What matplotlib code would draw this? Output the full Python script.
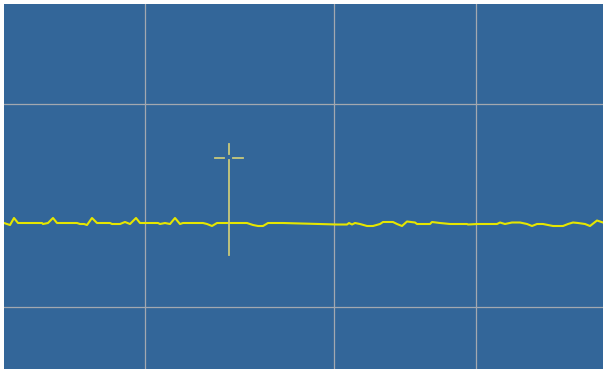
import matplotlib
matplotlib.use("Agg")
import matplotlib.pyplot as plt

# 采样点（时间）与信号幅值
t = [0, 6, 10, 14, 38, 39, 44, 49, 53, 73, 76, 80, 83, 88, 93,
     106, 108, 116, 121, 126, 132, 136, 154, 156, 161, 166, 171, 176, 179,
     199, 203, 208, 213, 243, 249, 254, 259, 264, 279, 333, 343, 345, 348,
     351, 356, 363, 369, 376, 379, 389, 393, 398, 403, 411, 413, 426, 428,
     436, 446, 463, 464, 473, 493, 496, 501, 508, 516, 523, 528, 533, 539,
     549, 559, 564, 569, 574, 581, 586, 593, 599]
amp = [0, -2, 5, 0, 0, -1, 0, 5, 0, 0, -1, -1, -2, 5, 0,
       0, -1, -1, 1, -1, 5, 0, 0, -1, 0, -1, 5, -1, 0,
       0, -1, -3, 0, 0, -2, -3, -3, 0, 0, -1.5, -1.5, 0, -1.5,
       0, -1, -3, -3, -1, 1, 1, -1, -3, 1.5, 0.5, -1, -1, 1,
       0, -1, -1, -1.5, -1, -1, 0.5, -1, 0.5, 0.5, -1, -3, -1, -1,
       -3, -3, -1, 0.5, 0, -1, -3, 2.5, 0.5]

# 光标位置
cursor_t = 225
cursor_y = 65
cursor_span = (-32, 79)

# 网格位置
grid_x = [141, 330, 472]
grid_y = [118.7, -84.3]

fig = plt.figure(figsize=(6.03, 3.69), dpi=100)
fig.patch.set_facecolor('white')
ax = fig.add_axes([4 / 603, 0, 599 / 603, 365 / 369])
ax.set_facecolor('#336699')

ax.plot(t, amp, color='#e6e600', linewidth=1.5, solid_joinstyle='round')

# 十字光标
cc = '#c9c97a'
ax.plot([cursor_t, cursor_t], [cursor_span[0], cursor_y - 1.5], color=cc, linewidth=1.3)
ax.plot([cursor_t, cursor_t], [cursor_y + 4.5, cursor_span[1]], color=cc, linewidth=1.3)
ax.plot([cursor_t - 14, cursor_t - 5], [cursor_y, cursor_y], color=cc, linewidth=1.3)
ax.plot([cursor_t + 4, cursor_t + 14], [cursor_y, cursor_y], color=cc, linewidth=1.3)

ax.set_xlim(0, 599)
ax.set_ylim(-146, 219)
ax.set_xticks(grid_x)
ax.set_yticks(grid_y)
ax.grid(True, color='#a3a8b0', linewidth=0.9)
ax.set_axisbelow(True)
ax.tick_params(length=0, labelbottom=False, labelleft=False)
for s in ax.spines.values():
    s.set_visible(False)

fig.savefig('out.png', dpi=100)
